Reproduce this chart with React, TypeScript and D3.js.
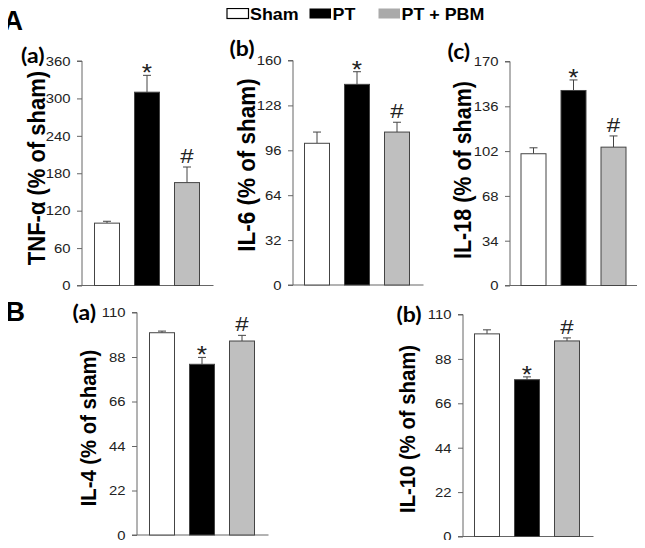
import React, { useEffect, useRef } from "react";
import * as d3 from "d3";

const groups = ["Sham", "PT", "PT + PBM"];
const barColors = ["#ffffff", "#000000", "#bfbfbf"];
const legendColors = ["#ffffff", "#000000", "#aaaaaa"];
const marks = ["", "*", "#"];

const tnfMean = [100, 310, 165];
const tnfErr = [3, 27, 25];
const tnfTicks = [0, 60, 120, 180, 240, 300, 360];

const il6Mean = [101, 143, 109];
const il6Err = [8, 9, 7];
const il6Ticks = [0, 32, 64, 96, 128, 160];

const il18Mean = [100, 148, 105];
const il18Err = [4.5, 8, 8.5];
const il18Ticks = [0, 34, 68, 102, 136, 170];

const il4Mean = [100, 84.4, 95.9];
const il4Err = [0.8, 3.4, 2.8];
const il4Ticks = [0, 22, 44, 66, 88, 110];

const il10Mean = [100.4, 77.7, 96.9];
const il10Err = [2, 1.4, 1.5];
const il10Ticks = [0, 22, 44, 66, 88, 110];

// panel layout: axis x, first bar x, top/bottom of y range, label/tag spots
const panels = [
  { tag: "(a)", label: "TNF-α (% of sham)", mean: tnfMean, err: tnfErr, ticks: tnfTicks, ax: 82, bx: 94.5, top: 61, bot: 285.5, lx: 37, ly: 168, fs: 22, tagX: 21, tagY: 62.5 },
  { tag: "(b)", label: "IL-6 (% of sham)", mean: il6Mean, err: il6Err, ticks: il6Ticks, ax: 293, bx: 304.5, top: 60.5, bot: 285, lx: 246, ly: 165, fs: 22.5, tagX: 229.5, tagY: 56 },
  { tag: "(c)", label: "IL-18 (% of sham)", mean: il18Mean, err: il18Err, ticks: il18Ticks, ax: 510, bx: 521, top: 61.5, bot: 285.5, lx: 463, ly: 170, fs: 21.5, tagX: 447.5, tagY: 59 },
  { tag: "(a)", label: "IL-4 (% of sham)", mean: il4Mean, err: il4Err, ticks: il4Ticks, ax: 137, bx: 149.5, top: 312.5, bot: 535, lx: 88, ly: 428, fs: 20.3, tagX: 72.5, tagY: 320 },
  { tag: "(b)", label: "IL-10 (% of sham)", mean: il10Mean, err: il10Err, ticks: il10Ticks, ax: 463, bx: 474.5, top: 314.5, bot: 536.5, lx: 407, ly: 429, fs: 20.3, tagX: 396.5, tagY: 322 },
];

const App = () => {
  const ref = useRef(null);

  useEffect(() => {
    const svg = d3.select(ref.current);
    svg.selectAll("*").remove();
    const font = "'Liberation Sans', Arial, sans-serif";

    // text stretched a little wider, like the figure
    const wideText = (sel, x, y, s, str) =>
      sel.append("text").attr("transform", `translate(${x},${y}) scale(${s},1)`).text(str);

    wideText(svg, 3.5, 30, 1.0, "A").style("font-family", font).style("font-weight", "bold").style("font-size", "27px");
    wideText(svg, 5.5, 321, 1.0, "B").style("font-family", font).style("font-weight", "bold").style("font-size", "27px");

    // legend
    const legX = [227, 309.5, 378.5];
    const legend = svg.append("g");
    groups.forEach((g, i) => {
      legend.append("rect").attr("x", legX[i]).attr("y", 8.5).attr("width", 21.5).attr("height", 10)
        .attr("fill", legendColors[i]).attr("stroke", i === 0 ? "#000" : "none").attr("stroke-width", 1.2);
      wideText(legend, legX[i] + 23, 19.5, 1.05, g)
        .style("font-family", font).style("font-weight", "bold").style("font-size", "17px");
    });

    panels.forEach((p) => {
      const y = d3.scaleLinear().domain([0, p.ticks[p.ticks.length - 1]]).range([p.bot, p.top]);
      const x = d3.scaleBand().domain(groups).range([p.bx - 15, p.bx + 120]).paddingInner(0.375).paddingOuter(0.375);
      const g = svg.append("g");

      const yAxis = g.append("g").attr("transform", `translate(${p.ax},0)`)
        .call(d3.axisLeft(y).tickValues(p.ticks).tickSize(5).tickPadding(5));
      yAxis.select(".domain").attr("stroke", "#666").attr("d", `M-5,${p.top}H0V${p.bot}`);
      yAxis.selectAll(".tick line").attr("stroke", "#666");
      yAxis.selectAll(".tick text").attr("x", -10.5).attr("transform", "scale(1.1,1)")
        .style("font-family", font).style("font-size", "13.5px").attr("fill", "#222");

      // baseline
      g.append("line").attr("x1", p.ax - 5).attr("x2", p.bx + 119).attr("y1", p.bot).attr("y2", p.bot)
        .attr("stroke", "#666");

      const bw = x.bandwidth();
      groups.forEach((gr, i) => {
        const cx = x(gr) + bw / 2;
        const yt = y(p.mean[i]);
        const ye = y(p.mean[i] + p.err[i]);
        g.append("line").attr("x1", cx).attr("x2", cx).attr("y1", yt).attr("y2", ye).attr("stroke", "#444");
        g.append("line").attr("x1", cx - 4).attr("x2", cx + 4).attr("y1", ye).attr("y2", ye).attr("stroke", "#444");
        g.append("rect").attr("x", x(gr)).attr("y", yt).attr("width", bw).attr("height", p.bot - yt)
          .attr("fill", barColors[i]).attr("stroke", "#444").attr("stroke-width", 1);
        if (marks[i] === "*") {
          wideText(g, cx, ye + 6, 1.1, "*").attr("text-anchor", "middle")
            .style("font-family", font).style("font-size", "24px").attr("fill", "#222");
        } else if (marks[i] === "#") {
          wideText(g, cx, ye - 4, 1.2, "#").attr("text-anchor", "middle")
            .style("font-family", font).style("font-size", "20px").attr("fill", "#222");
        }
      });

      // y label
      g.append("text").attr("transform", `translate(${p.lx},${p.ly}) scale(1.1,1) rotate(-90)`)
        .attr("text-anchor", "middle").attr("dy", "0.35em").text(p.label)
        .style("font-family", font).style("font-weight", "bold").style("font-size", p.fs + "px");

      // panel tag
      wideText(g, p.tagX, p.tagY, 1.15, p.tag)
        .style("font-family", "Lato, sans-serif").style("font-weight", "bold").style("font-size", "20px");
    });
  }, []);

  return (
    <div style={{ margin: "-8px" }}>
      <svg ref={ref} width="645" height="548" style={{ display: "block", background: "#fff" }}></svg>
    </div>
  );
};

export default App;
